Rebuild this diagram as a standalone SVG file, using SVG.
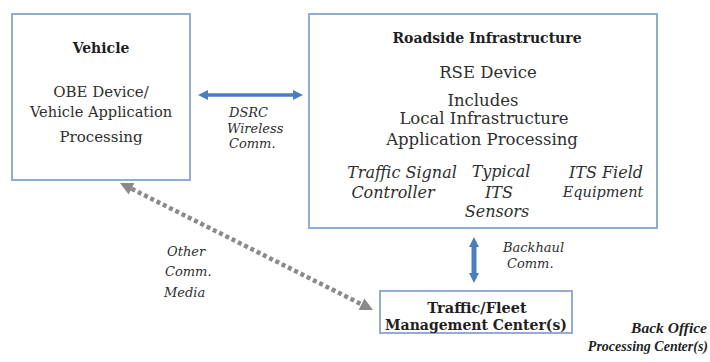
<svg xmlns="http://www.w3.org/2000/svg" width="710" height="362" viewBox="0 0 710 362">
<defs>
<style>
.box{fill:#fff;stroke:#93acd3;stroke-width:2}
.t{font-family:"DejaVu Serif","Liberation Serif",serif;fill:#2e2e2e;text-anchor:middle}
.b{font-weight:bold;fill:#1f1f1f}
.i{font-style:italic}
.l{text-anchor:start}
.r{text-anchor:end}
.lib{font-family:"Liberation Serif",serif}
.blue{stroke:#4a7ebf;fill:none}
.gray{stroke:#8a8a8a;fill:none;stroke-width:4.5;stroke-dasharray:4 3}
</style>
<marker id="ah" viewBox="0 0 10 10" refX="0" refY="5" markerWidth="10" markerHeight="11" markerUnits="userSpaceOnUse" orient="auto-start-reverse"><path d="M0,0 L10,5 L0,10 z" fill="#4a7ebf"/></marker>
<marker id="av" viewBox="0 0 10 10" refX="0" refY="5" markerWidth="10" markerHeight="13" markerUnits="userSpaceOnUse" orient="auto-start-reverse"><path d="M0,0 L10,5 L0,10 z" fill="#4a7ebf"/></marker>
<marker id="ag" viewBox="0 0 10 10" refX="0" refY="5" markerWidth="13" markerHeight="14" markerUnits="userSpaceOnUse" orient="auto-start-reverse"><path d="M0,0 L10,5 L0,10 z" fill="#8a8a8a"/></marker>
</defs>
<rect width="710" height="362" fill="#fff"/>
<g id="vehicle">
<rect class="box" x="12" y="14" width="178" height="166"/>
<text class="t b" x="101" y="53" font-size="14">Vehicle</text>
<text class="t" x="101" y="97" font-size="15">OBE Device/</text>
<text class="t" x="101" y="117" font-size="14.6">Vehicle Application</text>
<text class="t" x="101" y="142" font-size="15">Processing</text>
</g>
<g id="roadside">
<rect class="box" x="309" y="14" width="348" height="214"/>
<text class="t b" x="487" y="43" font-size="14">Roadside Infrastructure</text>
<text class="t" x="488" y="78" font-size="16.5">RSE Device</text>
<text class="t" x="483" y="106" font-size="16.5">Includes</text>
<text class="t" x="484" y="124" font-size="16.5">Local Infrastructure</text>
<text class="t" x="482" y="145" font-size="16.5">Application Processing</text>
<text class="t i" x="402" y="178" font-size="16">Traffic Signal</text>
<text class="t i" x="393" y="198" font-size="16">Controller</text>
<text class="t i" x="501" y="177" font-size="16">Typical</text>
<text class="t i" x="499" y="198" font-size="16">ITS</text>
<text class="t i" x="497" y="217" font-size="16">Sensors</text>
<text class="t i" x="606" y="178" font-size="16">ITS Field</text>
<text class="t i" x="603" y="197" font-size="14.5">Equipment</text>
</g>
<g id="tmc">
<rect class="box" x="380" y="291" width="192" height="42"/>
<text class="t b" x="477" y="313" font-size="14.5">Traffic/Fleet</text>
<text class="t b" x="476" y="330" font-size="14">Management Center(s)</text>
</g>
<g id="backoffice">
<text class="t b i r lib" x="707" y="333" font-size="15.5">Back Office</text>
<text class="t b i r lib" x="708" y="351" font-size="14">Processing Center(s)</text>
</g>
<g id="connectors">
<line class="blue" x1="208" y1="95" x2="293" y2="95" stroke-width="3.5" marker-start="url(#ah)" marker-end="url(#ah)"/>
<line class="blue" x1="474" y1="247" x2="474" y2="273" stroke-width="5" marker-start="url(#av)" marker-end="url(#av)"/>
<line class="gray" x1="131.6" y1="188.8" x2="361.4" y2="304.2" marker-start="url(#ag)" marker-end="url(#ag)"/>
<text class="t i l" x="229" y="117" font-size="13">DSRC</text>
<text class="t i l" x="227" y="133" font-size="13">Wireless</text>
<text class="t i l" x="229" y="148" font-size="13">Comm.</text>
<text class="t i l" x="167" y="256" font-size="13">Other</text>
<text class="t i l" x="165" y="276" font-size="13">Comm.</text>
<text class="t i l" x="164" y="297" font-size="13">Media</text>
<text class="t i l" x="503" y="252" font-size="13">Backhaul</text>
<text class="t i l" x="507" y="268" font-size="13">Comm.</text>
</g>
</svg>
